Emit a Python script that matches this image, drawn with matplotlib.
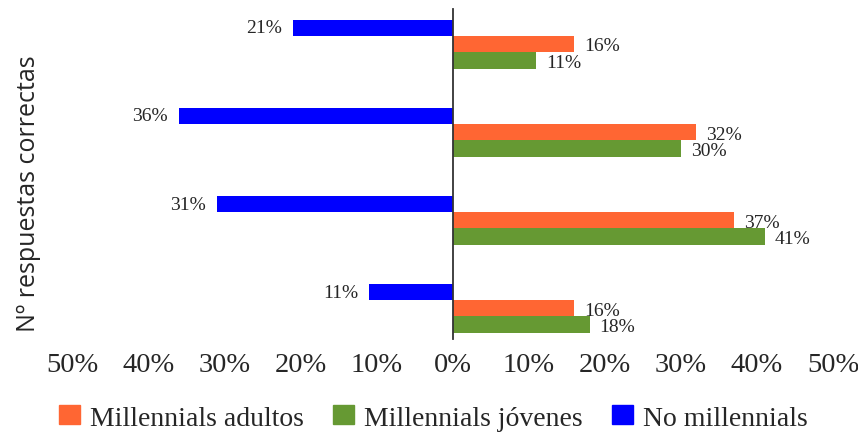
import matplotlib.pyplot as plt
from matplotlib.patches import Patch
import numpy as np

groups = ["1", "2", "3", "4"]
no_millennials = [21, 36, 31, 11]
adultos = [16, 32, 37, 16]
jovenes = [11, 30, 41, 18]
ticks = [-50, -40, -30, -20, -10, 0, 10, 20, 30, 40, 50]

c_orange = "#ff6633"
c_green = "#669933"
c_blue = "#0000ff"
serif = "Liberation Serif"
txt = "#262626"

fig = plt.figure(figsize=(8.58, 4.35), dpi=100)
ax = fig.add_axes([0.084, 0.218, 0.887, 0.759])

y = np.arange(len(groups))
h = 0.185
ax.barh(y - h, [-v for v in no_millennials], height=h, color=c_blue)
ax.barh(y, adultos, height=h, color=c_orange)
ax.barh(y + h, jovenes, height=h, color=c_green)

for i in range(len(groups)):
    ax.text(-no_millennials[i] - 1.4, y[i] - h, f"{no_millennials[i]}%", ha="right",
            va="center", fontsize=14, family=serif, color=txt)
    ax.text(adultos[i] + 1.3, y[i] + 0.02, f"{adultos[i]}%", ha="left",
            va="center", fontsize=14, family=serif, color=txt)
    ax.text(jovenes[i] + 1.3, y[i] + h + 0.02, f"{jovenes[i]}%", ha="left",
            va="center", fontsize=14, family=serif, color=txt)

ax.set_xlim(-50, 50)
ax.set_ylim(3.35, -0.4)
ax.set_xticks(ticks)
ax.set_xticklabels([f"{abs(t)}%" for t in ticks], family=serif, fontsize=20.5, color=txt)
ax.tick_params(axis="x", length=0, pad=9)
ax.set_yticks([])
for s in ["top", "right", "bottom"]:
    ax.spines[s].set_visible(False)
ax.spines["left"].set_position(("data", 0))
ax.spines["left"].set_color("#333333")
ax.spines["left"].set_linewidth(1.3)

fig.text(0.033, 0.554, "Nº respuestas correctas", rotation=90, ha="center", va="center",
         fontsize=18, family="Open Sans", color=txt)

handles = [Patch(color=c_orange, label="Millennials adultos"),
           Patch(color=c_green, label="Millennials jóvenes"),
           Patch(color=c_blue, label="No millennials")]
fig.legend(handles=handles, loc="center", bbox_to_anchor=(0.505, 0.037), ncol=3,
           frameon=False, prop={"family": serif, "size": 20}, handlelength=0.75,
           handleheight=0.68, handletextpad=0.36, columnspacing=1.05,
           labelcolor=txt, borderpad=0)

fig.savefig("out.png", dpi=100)
